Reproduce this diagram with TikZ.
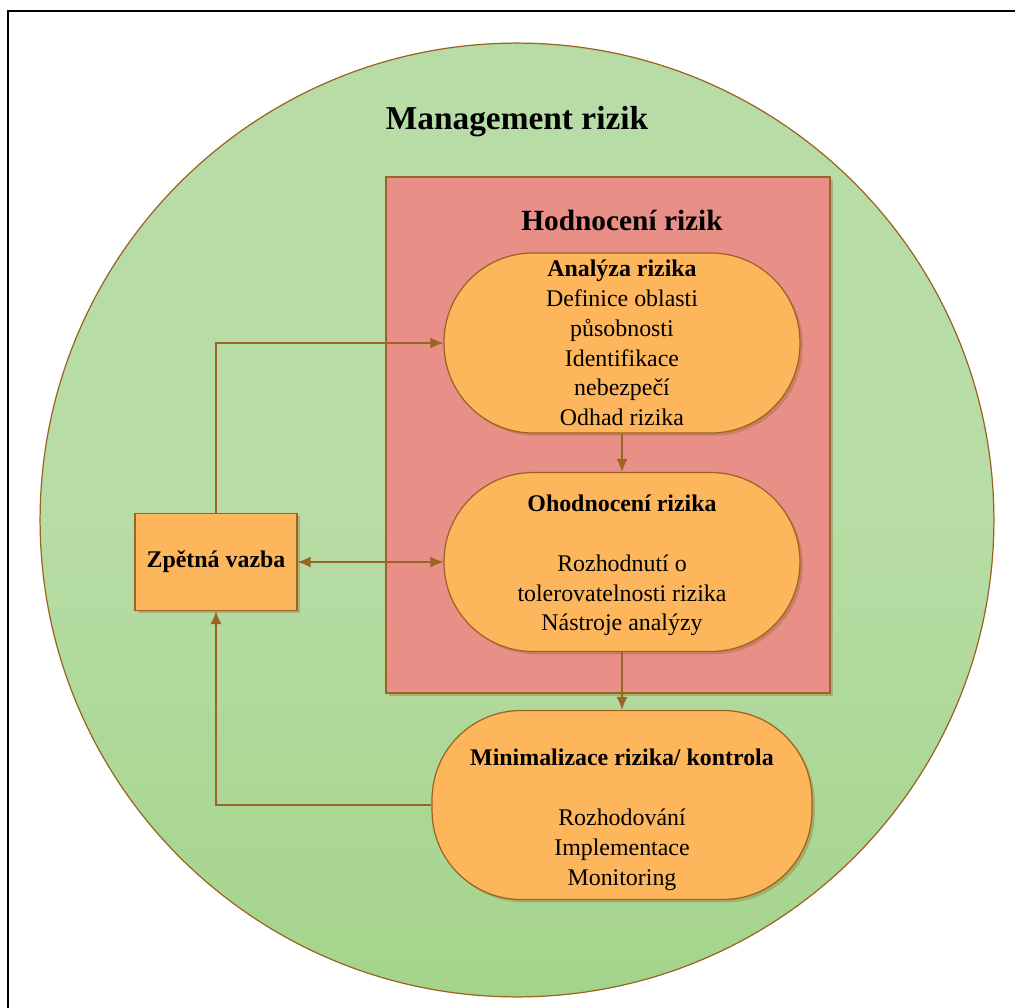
\documentclass[tikz,border=0pt]{standalone}
\usepackage{fontspec}
\setmainfont{Liberation Serif}
\usetikzlibrary{positioning,arrows.meta,shadows}
\definecolor{leaf}{HTML}{B7DCA5}
\definecolor{leafdark}{HTML}{A4D48B}
\definecolor{salmon}{HTML}{E88F88}
\definecolor{amber}{HTML}{FDB65B}
\definecolor{rust}{HTML}{9A6422}

\begin{document}
\begin{tikzpicture}[
		x=0.02cm, y=-0.02cm,
		>={Latex[length=2.6mm,width=2.2mm]},
		every text node part/.style={align=center},
		font=\fontsize{13.6}{17}\selectfont,
		outline/.style={draw=rust, line width=0.7pt},
		shadowed/.style={drop shadow={shadow xshift=1.6pt, shadow yshift=-1.6pt, opacity=0.35, fill=rust}},
		stadium/.style={outline, shadowed, fill=amber, rounded corners=1.78cm, inner sep=0pt},
		flow/.style={->, rust, line width=0.8pt},
		heading/.style={font=\bfseries\fontsize{19}{22}\selectfont},
		subheading/.style={font=\bfseries\fontsize{16.7}{20}\selectfont}
	]
	\useasboundingbox (0,0) rectangle (1015,1008);
	% frame
	\draw[line width=1.4pt] (8,1008) -- (8,11) -- (1015,11);
	
	% outer circle
	\node(management)[circle, draw=rust, line width=0.7pt, minimum size=19.08cm, inner sep=0pt,
		top color=leaf, bottom color=leafdark, middle color=leaf] at (517,520) {};
	\node(managementtitle)[heading] at (517,122) {Management rizik};
	
	% red container
	\node(hodnoceni)[outline, shadowed, fill=salmon, minimum width=8.88cm, minimum height=10.32cm, inner sep=0pt] at (608,435) {};
	\node(hodnocenititle)[subheading] at (622,220) {Hodnocení rizik};
	
	\node(analyza)[stadium, minimum width=7.12cm, minimum height=3.6cm] at (622,343)
		{\textbf{Analýza rizika}\\ Definice oblasti\\ působnosti\\ Identifikace\\ nebezpečí\\ Odhad rizika};
	\node(ohodnoceni)[stadium, minimum width=7.12cm, minimum height=3.58cm] at (622,562)
		{};
	\node(ohodnocenitext) at ([yshift=-0.07cm]ohodnoceni.center)
		{\textbf{Ohodnocení rizika}\\[17pt] Rozhodnutí o\\ tolerovatelnosti rizika\\ Nástroje analýzy};
	\node(minimalizace)[stadium, minimum width=7.6cm, minimum height=3.78cm] at (622,805)
		{};
	\node(minimalizacetext) at ([yshift=-0.3cm]minimalizace.center)
		{\textbf{Minimalizace rizika/ kontrola}\\[17pt] Rozhodování\\ Implementace\\ Monitoring};
	\node(zpetna)[outline, shadowed, fill=amber, minimum width=3.24cm, minimum height=1.94cm, inner sep=0pt] at (216,562)
		{\textbf{Zpětná vazba}};
	
	% connectors
	\draw[flow] (zpetna.north) |- (analyza.west);
	\draw[flow] (analyza.south) -- (ohodnoceni.north);
	\draw[flow] (ohodnoceni.south) -- (minimalizace.north);
	\draw[flow, <->] (zpetna.east) -- (ohodnoceni.west);
	\draw[flow] (minimalizace.west) -| (zpetna.south);
\end{tikzpicture}
\end{document}
